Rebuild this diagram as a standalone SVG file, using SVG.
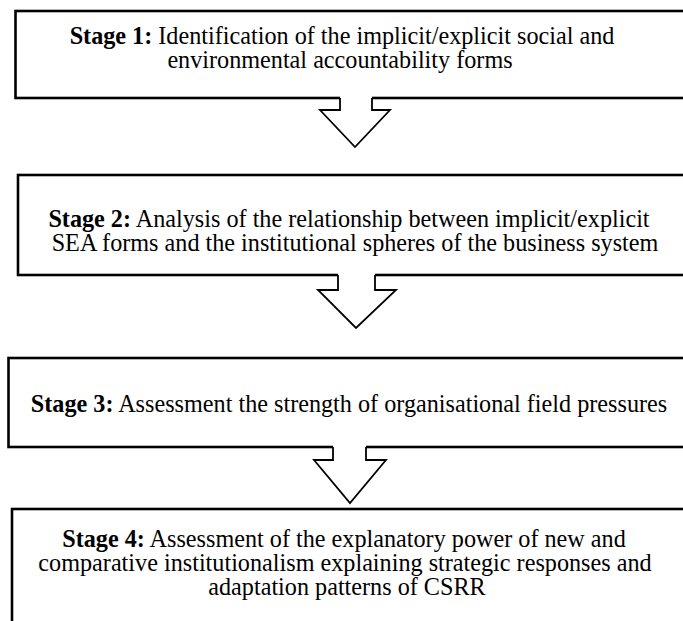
<svg xmlns="http://www.w3.org/2000/svg" width="683" height="621" viewBox="0 0 683 621">
  <style>
    .box { fill: #ffffff; stroke: #000000; stroke-width: 2.6; }
    .arrow-fill { fill: #ffffff; stroke: none; }
    .arrow-line { fill: none; stroke: #000000; stroke-width: 1.8; stroke-linejoin: miter; }
    .label { font-family: "Liberation Serif", "Times New Roman", serif; font-size: 24.2px; fill: #000000; text-anchor: middle; }
    .label .stage { font-weight: bold; }
  </style>

  <rect width="683" height="621" fill="#ffffff"/>

  <!-- stage boxes (right edges run past the page) -->
  <g id="stage1">
    <rect class="box" x="15.5" y="11" width="680" height="87"/>
    <text class="label" x="342" y="44"><tspan class="stage">Stage 1:</tspan> Identification of the implicit/explicit social and</text>
    <text class="label" x="340" y="68">environmental accountability forms</text>
  </g>

  <g id="stage2">
    <rect class="box" x="18" y="175" width="680" height="100"/>
    <text class="label" x="349" y="227"><tspan class="stage">Stage 2:</tspan> Analysis of the relationship between implicit/explicit</text>
    <text class="label" x="355" y="251">SEA forms and the institutional spheres of the business system</text>
  </g>

  <g id="stage3">
    <rect class="box" x="8.5" y="358" width="690" height="89"/>
    <text class="label" x="349" y="412"><tspan class="stage">Stage 3:</tspan> Assessment the strength of organisational field pressures</text>
  </g>

  <g id="stage4">
    <rect class="box" x="12" y="509" width="690" height="130"/>
    <text class="label" x="344" y="547"><tspan class="stage">Stage 4:</tspan> Assessment of the explanatory power of new and</text>
    <text class="label" x="345" y="571">comparative institutionalism explaining strategic responses and</text>
    <text class="label" x="347" y="595">adaptation patterns of CSRR</text>
  </g>

  <!-- block arrows between stages -->
  <g id="connectors">
    <g id="arrow1">
      <polygon class="arrow-fill" points="340,95 372,95 372,110 390,110 355,147 320,110 340,110"/>
      <polyline class="arrow-line" points="340,98 340,110 320,110 355,147 390,110 372,110 372,98"/>
    </g>
    <g id="arrow2">
      <polygon class="arrow-fill" points="338,272 375,272 375,290 396,290 356,328 318,290 338,290"/>
      <polyline class="arrow-line" points="338,275 338,290 318,290 356,328 396,290 375,290 375,275"/>
    </g>
    <g id="arrow3">
      <polygon class="arrow-fill" points="333,444 366,444 366,460 386,460 350,503 314,460 333,460"/>
      <polyline class="arrow-line" points="333,447 333,460 314,460 350,503 386,460 366,460 366,447"/>
    </g>
  </g>
</svg>
